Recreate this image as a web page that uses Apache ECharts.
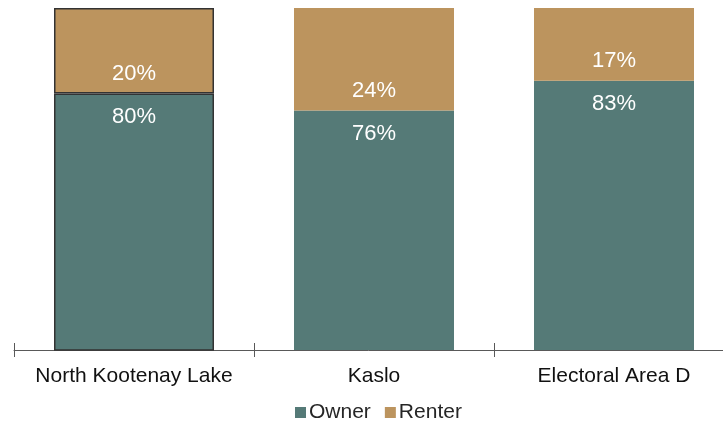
<!DOCTYPE html>
<html>
<head>
<meta charset="utf-8">
<script src="https://cdn.jsdelivr.net/npm/echarts@6/dist/echarts.min.js"></script>
<style>
  html, body { margin: 0; padding: 0; background: #fff; }
  #chart { width: 723px; height: 422px; }
</style>
</head>
<body>
<div id="chart"></div>
<script>
// 数据
const categories = ['North Kootenay Lake', 'Kaslo', 'Electoral Area D'];
const ownerValues = [80, 76, 83];
const renterValues = [20, 24, 17];
const selectedIndex = 0; // first bar has the dark outline

const FONT = '"Liberation Sans", Arial, sans-serif';
const OWNER_COLOR = '#557a77';
const RENTER_COLOR = '#bc945e';

// 给选中的柱子加边框
const withBorder = (values) => values.map((v, i) => i === selectedIndex
    ? { value: v, itemStyle: { borderColor: '#333333', borderWidth: 1.5 } }
    : v);

const labelStyle = {
    show: true,
    color: '#ffffff',
    fontFamily: FONT,
    fontSize: 22,
    formatter: (p) => p.value + '%'
};

const myEchart = echarts.init(document.getElementById('chart'));

myEchart.setOption({
    animation: false,
    textStyle: { fontFamily: FONT },
    grid: { left: 14, width: 720, top: 8, bottom: 72, outerBoundsMode: 'none', containLabel: false },
    legend: {
        bottom: -6,
        left: 290,
        itemWidth: 11,
        itemHeight: 11,
        itemGap: 14,
        icon: 'rect',
        textStyle: { fontSize: 21, color: '#262626', fontFamily: FONT, padding: [0, 0, 0, -2] },
        data: ['Owner', 'Renter']
    },
    xAxis: [{
        type: 'category',
        data: categories,
        axisLine: { lineStyle: { color: '#595959', width: 1 } },
        axisTick: { show: true, length: 7, lineStyle: { color: '#595959' } },
        axisLabel: { interval: 0, fontSize: 21, color: '#111111', margin: 16, fontFamily: FONT }
    }, {
        type: 'category',
        data: categories,
        position: 'bottom',
        axisLine: { show: false },
        axisTick: { show: true, inside: true, length: 7, lineStyle: { color: '#595959' } },
        axisLabel: { show: false }
    }],
    yAxis: {
        type: 'value',
        min: 20,
        max: 100,
        show: false,
        splitLine: { show: false }
    },
    series: [{
        name: 'Owner',
        type: 'bar',
        stack: 'tenure',
        barWidth: 160,
        itemStyle: { color: OWNER_COLOR },
        label: { ...labelStyle, position: 'insideTop', distance: 12 },
        data: withBorder(ownerValues)
    }, {
        name: 'Renter',
        type: 'bar',
        stack: 'tenure',
        barWidth: 160,
        itemStyle: { color: RENTER_COLOR },
        label: { ...labelStyle, position: 'insideBottom', distance: 9 },
        data: withBorder(renterValues)
    }]
});
</script>
</body>
</html>
